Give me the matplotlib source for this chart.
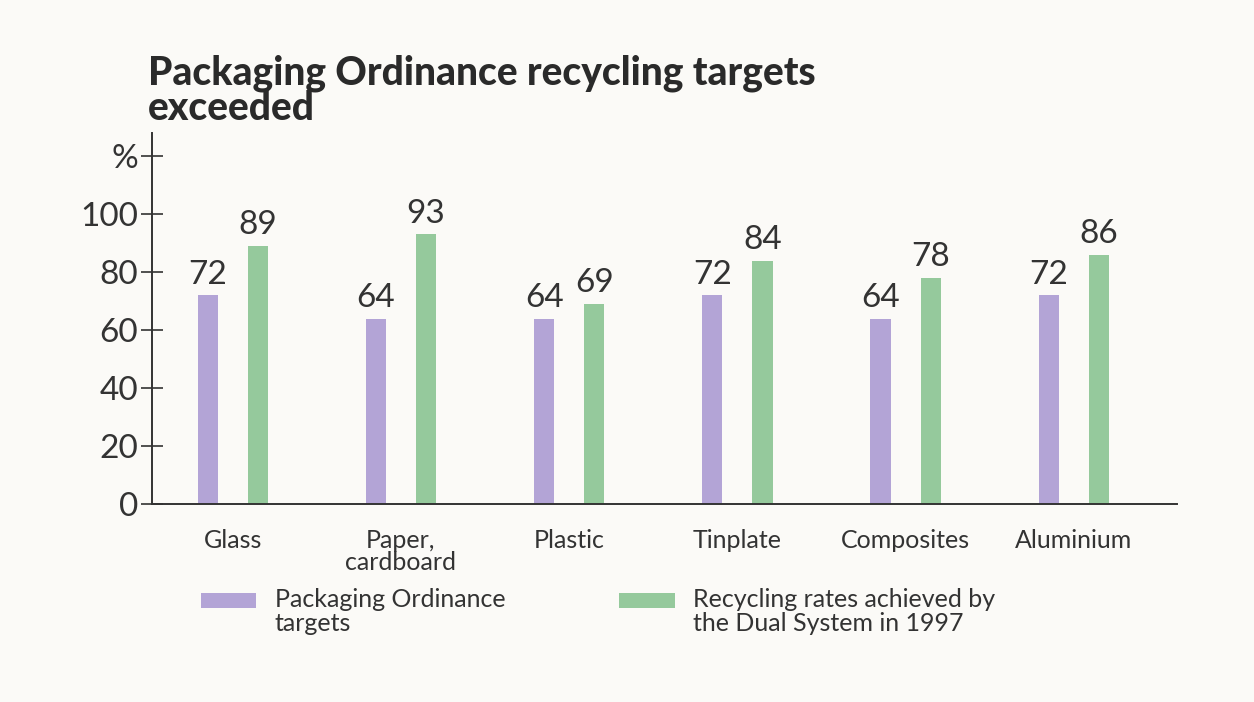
import matplotlib
matplotlib.use('agg')
from matplotlib import pyplot as plt
from matplotlib import patches as pltpatches
import numpy as np


categories = ['Glass', 'Paper,\ncardboard', 'Plastic', 'Tinplate', 'Composites', 'Aluminium']
targets = [72, 64, 64, 72, 64, 72]
achieved = [89, 93, 69, 84, 78, 86]
series_names = ['Packaging Ordinance\ntargets', 'Recycling rates achieved by\nthe Dual System in 1997']
y_ticks = [0, 20, 40, 60, 80, 100, 120]
y_tick_labels = ['0', '20', '40', '60', '80', '100', '%']

title = 'Packaging Ordinance recycling targets\nexceeded'

purple = '#b3a4d6'
green = '#95c99c'
ink = '#333333'
paper = '#fbfaf7'

plt.rcParams['font.family'] = ['Lato', 'DejaVu Sans']

fig = plt.figure(figsize=(12.54, 7.02), dpi=100, facecolor=paper)
ax = fig.add_axes([0.1212, 0.282, 0.817, 0.5285])
ax.set_facecolor(paper)

x = np.arange(len(categories))
width = 0.12
offset = 0.149

bars_t = ax.bar(x - offset, targets, width, color=purple)
bars_a = ax.bar(x + offset, achieved, width, color=green)

for rect, val in list(zip(bars_t, targets)) + list(zip(bars_a, achieved)):
    ax.text(rect.get_x() + rect.get_width() / 2, val + 2, str(val),
            ha='center', va='bottom', fontsize=24, color=ink)

ax.set_xlim(-0.48, 5.61)
ax.set_ylim(0, 128)

ax.set_yticks(y_ticks)
ax.set_yticklabels(y_tick_labels, fontsize=24, color=ink)
ax.tick_params(axis='y', direction='inout', length=16, width=1.2, color=ink, pad=2)

ax.set_xticks(x)
ax.set_xticklabels(categories, fontsize=18, color=ink, linespacing=0.95)
ax.tick_params(axis='x', length=0, pad=18)

for side in ['top', 'right']:
    ax.spines[side].set_visible(False)
for side in ['left', 'bottom']:
    ax.spines[side].set_color(ink)
    ax.spines[side].set_linewidth(1.4)

fig.text(0.118, 0.922, title, fontsize=28, fontweight=900, color='#2a2a2a',
         va='top', ha='left', linespacing=0.92)

# legend drawn by hand so the swatch lines up with the first text line
legend_items = [(purple, series_names[0], 0.160), (green, series_names[1], 0.494)]
for colour, name, lx in legend_items:
    fig.add_artist(pltpatches.Rectangle((lx, 0.134), 0.044, 0.021, facecolor=colour,
                                        edgecolor='none', transform=fig.transFigure))
    fig.text(lx + 0.059, 0.163, name, fontsize=18, color=ink, va='top', ha='left',
             linespacing=1.05)

fig.savefig('out.png', dpi=100, facecolor=paper)
